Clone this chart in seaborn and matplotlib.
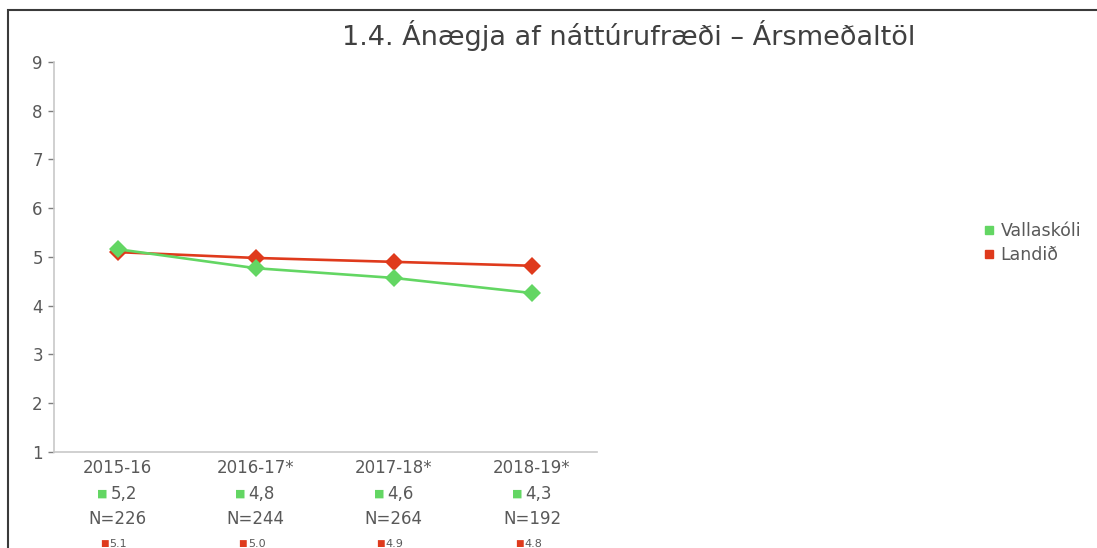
import matplotlib
matplotlib.use("Agg")
import matplotlib.pyplot as plt
from matplotlib.lines import Line2D
from matplotlib.patches import Rectangle
import seaborn as sns
import pandas as pd

# Yearly averages
years = ["2015-16", "2016-17*", "2017-18*", "2018-19*"]
vallaskoli = [5.16, 4.77, 4.57, 4.26]
landid = [5.10, 4.98, 4.90, 4.82]
n_counts = [226, 244, 264, 192]
series_names = ["Vallaskóli", "Landið"]

GREEN = "#63d663"
RED = "#df3a1c"
TEXT = "#595959"

sns.set_theme(style="white")
plt.rcParams["font.family"] = ["DejaVu Sans"]

df = pd.DataFrame({
    "pos": list(range(len(years))) * 2,
    "value": vallaskoli + landid,
    "series": [series_names[0]] * len(years) + [series_names[1]] * len(years),
})

fig = plt.figure(figsize=(10.97, 5.48), dpi=100)
ax = fig.add_axes([0.0492, 0.1752, 0.495, 0.7117])

sns.lineplot(
    data=df, x="pos", y="value", hue="series",
    hue_order=[series_names[1], series_names[0]],
    palette={series_names[0]: GREEN, series_names[1]: RED},
    style="series", markers={series_names[0]: "D", series_names[1]: "D"},
    dashes=False, markersize=9, markeredgewidth=0, linewidth=1.9,
    legend=False, ax=ax,
)

ax.set_xlim(-0.46, 3.47)
ax.set_ylim(1, 9)
ax.set_yticks(range(1, 10))
ax.set_xticks([])
ax.set_xlabel("")
ax.set_ylabel("")
ax.tick_params(axis="y", left=True, length=4, width=1, color="#7f7f7f",
               labelsize=12, labelcolor=TEXT, pad=4)
for side in ("top", "right"):
    ax.spines[side].set_visible(False)
for side in ("left", "bottom"):
    ax.spines[side].set_color("#c8c8c8")
    ax.spines[side].set_linewidth(1.2)

# Multi-line category labels under the axis
for i, yr in enumerate(years):
    xy = (i, 0)
    cc = ("data", "axes fraction")
    ax.annotate(yr, xy=xy, xycoords=cc, xytext=(0, -16), textcoords="offset pixels",
                ha="center", va="center", fontsize=12, color=TEXT, annotation_clip=False)
    ax.annotate("■", xy=xy, xycoords=cc, xytext=(-15, -42), textcoords="offset pixels",
                ha="center", va="center", fontsize=8, color=GREEN, annotation_clip=False)
    ax.annotate(f"{vallaskoli[i]:.1f}".replace(".", ","), xy=xy, xycoords=cc,
                xytext=(-7, -42), textcoords="offset pixels",
                ha="left", va="center", fontsize=12, color=TEXT, annotation_clip=False)
    ax.annotate(f"N={n_counts[i]}", xy=xy, xycoords=cc, xytext=(0, -67),
                textcoords="offset pixels", ha="center", va="center",
                fontsize=12, color=TEXT, annotation_clip=False)
    ax.annotate("■", xy=xy, xycoords=cc, xytext=(-13, -92), textcoords="offset pixels",
                ha="center", va="center", fontsize=6.5, color=RED, annotation_clip=False)
    ax.annotate(f"{landid[i]:.1f}", xy=xy, xycoords=cc,
                xytext=(-8, -92), textcoords="offset pixels",
                ha="left", va="center", fontsize=8, color=TEXT, annotation_clip=False)

# Legend on the right
handles = [
    Line2D([], [], linestyle="none", marker="s", markersize=6, color=GREEN, label=series_names[0]),
    Line2D([], [], linestyle="none", marker="s", markersize=6, color=RED, label=series_names[1]),
]
fig.legend(handles=handles, loc="center left", bbox_to_anchor=(0.889, 0.557),
           frameon=False, fontsize=12.5, labelcolor=TEXT, handlelength=0.6,
           handletextpad=0.35, labelspacing=0.35, borderpad=0)

fig.text(0.5735, 0.935, "1.4. Ánægja af náttúrufræði – Ársmeðaltöl",
         ha="center", va="center", fontsize=19.5, color="#404040")

# Frame around the chart area
fig.add_artist(Rectangle((8 / 1097, -0.1), 1.2, 1.1 - 10 / 548,
                         transform=fig.transFigure, fill=False,
                         edgecolor="#3a3a3a", linewidth=1.5))

fig.savefig("out.png", dpi=100, facecolor="white")
